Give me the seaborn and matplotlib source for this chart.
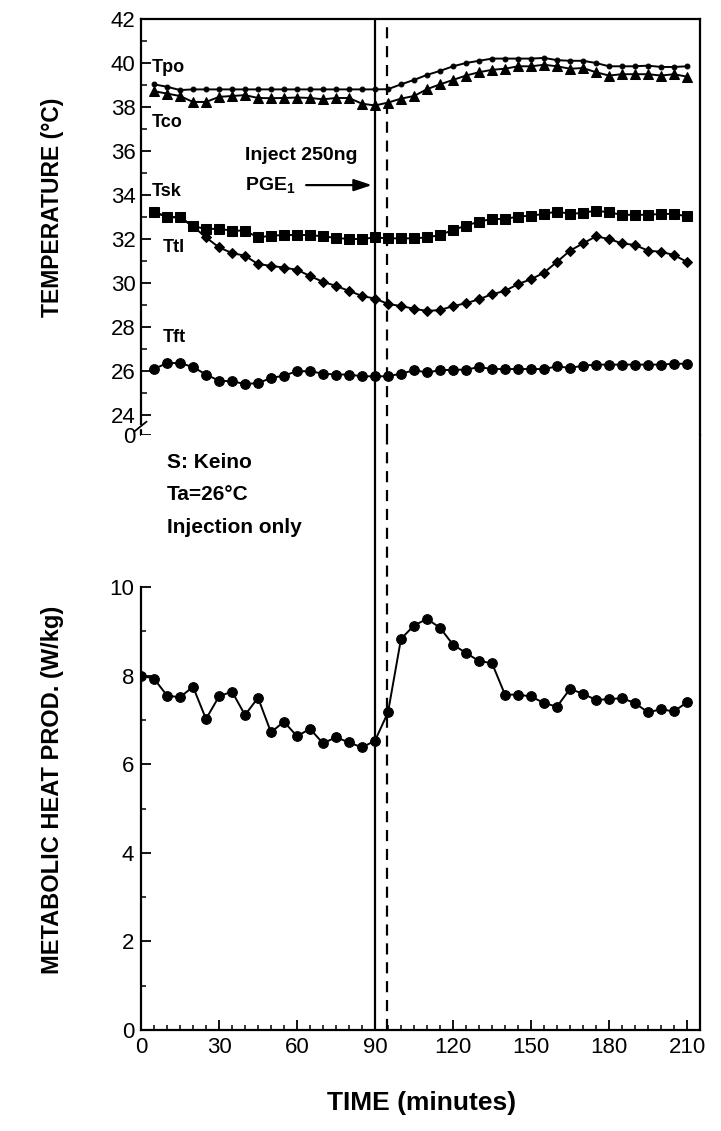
import numpy as np
import matplotlib
matplotlib.use("Agg")
import matplotlib.pyplot as plt
import seaborn as sns

# ---------------- data ----------------
time_top = list(range(5, 215, 5))          # minutes
time_bottom = list(range(0, 215, 5))

t_po = [39.03, 38.92, 38.77, 38.8, 38.8, 38.8, 38.8, 38.8, 38.8, 38.8, 38.8, 38.8,
        38.8, 38.8, 38.8, 38.8, 38.8, 38.8, 38.81, 39.03, 39.23, 39.46, 39.64, 39.85,
        40.0, 40.1, 40.2, 40.2, 40.2, 40.2, 40.23, 40.13, 40.1, 40.1, 40.0, 39.85,
        39.85, 39.85, 39.88, 39.82, 39.82, 39.85]
t_co = [38.72, 38.61, 38.5, 38.23, 38.23, 38.46, 38.5, 38.54, 38.41, 38.4, 38.41, 38.43,
        38.41, 38.35, 38.41, 38.41, 38.15, 38.07, 38.2, 38.38, 38.5, 38.81, 39.03, 39.23,
        39.43, 39.58, 39.69, 39.74, 39.85, 39.85, 39.92, 39.85, 39.74, 39.77, 39.58, 39.43,
        39.49, 39.49, 39.49, 39.43, 39.49, 39.38]
t_sk = [33.25, 32.99, 32.99, 32.58, 32.46, 32.46, 32.38, 32.38, 32.07, 32.15, 32.18, 32.18,
        32.18, 32.12, 32.05, 32.0, 32.0, 32.07, 32.03, 32.03, 32.03, 32.07, 32.18, 32.41,
        32.61, 32.79, 32.91, 32.91, 33.02, 33.06, 33.14, 33.25, 33.14, 33.19, 33.29, 33.21,
        33.1, 33.1, 33.1, 33.14, 33.14, 33.03]
t_tl = [33.25, 32.99, 32.99, 32.58, 32.07, 31.62, 31.36, 31.24, 30.86, 30.78, 30.70, 30.6,
        30.32, 30.05, 29.87, 29.64, 29.41, 29.29, 29.05, 28.95, 28.83, 28.73, 28.77, 28.95,
        29.08, 29.26, 29.49, 29.64, 29.95, 30.17, 30.47, 30.96, 31.47, 31.8, 32.12, 32.0,
        31.8, 31.73, 31.47, 31.42, 31.27, 30.96]
t_ft = [26.09, 26.36, 26.36, 26.18, 25.84, 25.56, 25.53, 25.41, 25.45, 25.68, 25.79, 25.99,
        25.99, 25.88, 25.84, 25.84, 25.76, 25.76, 25.76, 25.88, 26.03, 25.94, 26.03, 26.06,
        26.06, 26.18, 26.09, 26.09, 26.09, 26.09, 26.09, 26.21, 26.14, 26.24, 26.29, 26.29,
        26.29, 26.29, 26.29, 26.29, 26.33, 26.33]
heat_prod = [8.0, 7.93, 7.55, 7.51, 7.75, 7.02, 7.53, 7.64, 7.11, 7.50, 6.72, 6.96, 6.63,
             6.80, 6.47, 6.61, 6.49, 6.38, 6.53, 7.17, 8.83, 9.13, 9.28, 9.08, 8.70, 8.51,
             8.33, 8.28, 7.57, 7.57, 7.53, 7.38, 7.30, 7.70, 7.59, 7.45, 7.47, 7.49, 7.38,
             7.17, 7.24, 7.19, 7.40]

injection_time = 90
pge_time = 94.5
temp_ticks = [24, 26, 28, 30, 32, 34, 36, 38, 40, 42]
temp_tick_labels = ["24", "26", "28", "30", "32", "34", "36", "38", "40", "42"]
heat_ticks = [0, 2, 4, 6, 8, 10]
time_ticks = [0, 30, 60, 90, 120, 150, 180, 210]

# ---------------- style ----------------
sns.set_theme(style="ticks")
plt.rcParams["font.family"] = ["Liberation Sans", "DejaVu Sans"]
plt.rcParams["mathtext.fontset"] = "custom"
plt.rcParams["mathtext.rm"] = "Liberation Sans:bold"
plt.rcParams["mathtext.bf"] = "Liberation Sans:bold"
plt.rcParams["axes.linewidth"] = 1.6
for key in ("text.color", "axes.labelcolor", "xtick.color", "ytick.color",
            "axes.edgecolor"):
    plt.rcParams[key] = "black"

W_PX, H_PX = 721, 1131
fig = plt.figure(figsize=(W_PX / 100, H_PX / 100), dpi=100)
left_px, right_px = 141, 700
ax1 = fig.add_axes([left_px / W_PX, 1 - 435 / H_PX, (right_px - left_px) / W_PX, 416 / H_PX])
ax2 = fig.add_axes([left_px / W_PX, 1 - 1030 / H_PX, (right_px - left_px) / W_PX, 595 / H_PX])

lw = 1.4
kw = dict(color="black", linewidth=lw, markeredgecolor="black", legend=False)
sns.lineplot(x=time_top, y=t_po, ax=ax1, marker="o", markersize=3.5, **kw)
sns.lineplot(x=time_top, y=t_co, ax=ax1, marker="^", markersize=7, **kw)
sns.lineplot(x=time_top, y=t_sk, ax=ax1, marker="s", markersize=6.5, **kw)
sns.lineplot(x=time_top, y=t_tl, ax=ax1, marker="D", markersize=5.5, **kw)
sns.lineplot(x=time_top, y=t_ft, ax=ax1, marker="o", markersize=7, **kw)
sns.lineplot(x=time_bottom, y=heat_prod, ax=ax2, marker="o", markersize=7, **kw)

# limits
top_lo = 42 - 416 / 22.0
ax1.set_xlim(0, 215)
ax1.set_ylim(top_lo, 42)
ax2.set_xlim(0, 215)
ax2.set_ylim(0, 595 / 44.3)

# spines
ax1.spines["bottom"].set_visible(False)
ax1.spines["left"].set_bounds(23.6, 42)
ax2.spines["top"].set_visible(False)
ax2.spines["left"].set_bounds(0, 10)
for ax in (ax1, ax2):
    for s in ax.spines.values():
        s.set_linewidth(1.6)
        s.set_color("black")

# break on the temperature axis
ytr = ax1.get_yaxis_transform()
ax1.plot([0, 0], [top_lo, 23.3], transform=ytr, color="black", lw=1.6, clip_on=False)
ax1.plot([-0.012, 0.010], [23.25, 23.7], transform=ytr, color="black", lw=1.3, clip_on=False)

# ticks
ax1.set_yticks([top_lo] + temp_ticks)
ax1.set_yticklabels(["0"] + temp_tick_labels)
ax1.set_yticks(np.arange(25, 42, 2), minor=True)
ax1.tick_params(axis="x", which="both", bottom=False, top=False, labelbottom=False)
ax1.tick_params(axis="y", which="major", direction="in", length=7, width=1.3,
                labelsize=16, pad=4, right=False, colors="black")
ax1.tick_params(axis="y", which="minor", direction="in", length=4, width=1.1, right=False,
                colors="black")

ax2.set_yticks(heat_ticks)
ax2.set_yticks(np.arange(1, 10, 2), minor=True)
ax2.set_xticks(time_ticks)
ax2.set_xticks(np.arange(0, 215, 5), minor=True)
ax2.tick_params(axis="both", which="major", direction="in", length=7, width=1.3,
                labelsize=16, pad=5, right=False, top=False, colors="black")
ax2.tick_params(axis="both", which="minor", direction="in", length=3.5, width=1.1,
                right=False, top=False, colors="black")
ax2.set_xlabel("")
ax2.set_ylabel("")
ax1.set_xlabel("")
ax1.set_ylabel("")

# vertical event lines
for ax in (ax1, ax2):
    ax.axvline(injection_time, color="black", lw=1.6)
    ax.axvline(pge_time, color="black", lw=1.6, ls=(0, (5, 3.5)))

# annotations
tf = dict(fontsize=13, fontweight="bold", color="black", va="center", ha="left")
ax1.text(4.2, 39.8, "Tpo", **tf)
ax1.text(4.2, 37.3, "Tco", **tf)
ax1.text(4.2, 34.15, "Tsk", **tf)
ax1.text(8.5, 31.6, "Ttl", **tf)
ax1.text(8.5, 27.5, "Tft", **tf)
ax1.text(40, 35.8, "Inject 250ng", fontsize=14, fontweight="bold", va="center", ha="left",
         color="black")
ax1.text(40, 34.4, r"PGE$_{1}$", fontsize=14, fontweight="bold", va="center", ha="left",
         color="black")
ax1.annotate("", xy=(88.8, 34.45), xytext=(63.5, 34.45),
             arrowprops=dict(arrowstyle="-|>,head_length=0.9,head_width=0.3",
                             color="black", lw=1.6, shrinkA=0, shrinkB=0))

tb = dict(fontsize=15, fontweight="bold", va="center", ha="left", color="black")
ax2.text(10, 12.82, "S: Keino", **tb)
ax2.text(10, 12.08, "Ta=26°C", **tb)
ax2.text(10, 11.35, "Injection only", **tb)

# axis titles
fig.text(53 / W_PX, 1 - 207 / H_PX, "TEMPERATURE (°C)", rotation=90, ha="center",
         va="center", fontsize=16.5, fontweight="bold", color="black")
fig.text(53 / W_PX, 1 - 790 / H_PX, "METABOLIC HEAT PROD. (W/kg)", rotation=90,
         ha="center", va="center", fontsize=17, fontweight="bold", color="black")
fig.text(422 / W_PX, 1 - 1103 / H_PX, "TIME (minutes)", ha="center", va="center",
         fontsize=19, fontweight="bold", color="black")

fig.savefig("out.png", dpi=100)
